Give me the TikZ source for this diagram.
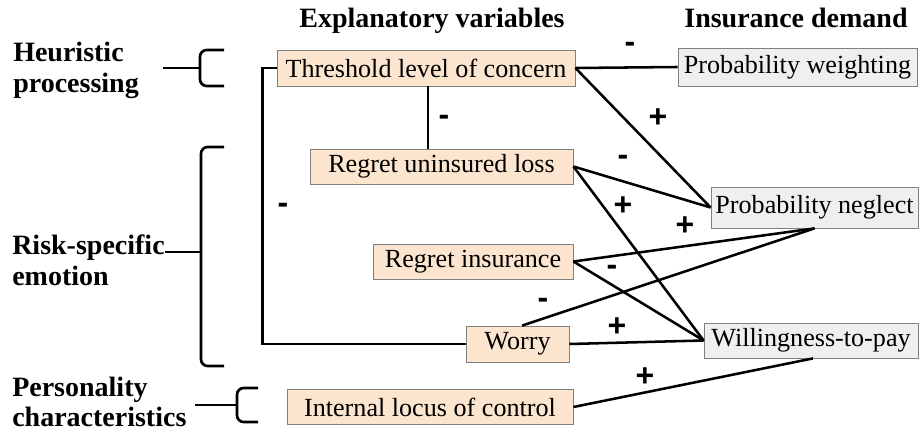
\documentclass[tikz,border=0pt]{standalone}
\usepackage{fontspec}
\setmainfont{Liberation Serif}
\newfontfamily\signfont{Liberation Sans}
\usepackage{tikz}

\definecolor{varfill}{RGB}{251,229,207}
\definecolor{demfill}{RGB}{239,239,239}
\definecolor{boxline}{RGB}{128,128,128}

\tikzset{
  varbox/.style={draw=boxline, fill=varfill, line width=0.6pt, inner sep=2pt, font=\fontsize{19.6}{22}\selectfont},
  dembox/.style={draw=boxline, fill=demfill, line width=0.6pt, inner sep=2pt, font=\fontsize{19.6}{22}\selectfont},
  lnk/.style={line width=1.9pt},
  sgn/.style={font=\signfont\bfseries\fontsize{24}{24}\selectfont, inner sep=0pt},
  hdr/.style={font=\bfseries\fontsize{21}{24}\selectfont, inner sep=0pt, anchor=base},
  grp/.style={font=\bfseries\fontsize{21}{23}\selectfont, align=left, inner sep=0pt, anchor=north west},
  brace/.style={line width=2pt, rounded corners=5pt}
}

\begin{document}
\begin{tikzpicture}[x=0.75pt,y=0.75pt,yscale=-1,xscale=1]
        \useasboundingbox (0,0) rectangle (919,434);

        % column headers
        \node[hdr] (hexp) at (432,28) {Explanatory variables};
        \node[hdr] (hdem) at (796,28) {Insurance demand};

        % groups on the left
        \node[grp] (gheu) at (13,42) {Heuristic\\processing};
        \node[grp] (grisk) at (12,235) {Risk-specific\\emotion};
        \node[grp, font=\bfseries\fontsize{21}{22}\selectfont] (gpers) at (12,377) {Personality\\characteristics};

        \draw[brace] (163,68) -- (200,68);
        \draw[brace] (224,50) -- (200,50) -- (200,86) -- (224,86);
        \draw[brace] (165,252) -- (201,252);
        \draw[brace] (224,147) -- (201,147) -- (201,366) -- (224,366);
        \draw[brace] (195,405) -- (237,405);
        \draw[brace] (258,388) -- (237,388) -- (237,422) -- (258,422);

        % boxes
        \node[varbox, minimum width=223.5pt, minimum height=27pt] (thr) at (426,68) {Threshold level of concern};
        \node[dembox, minimum width=179.25pt, minimum height=28.5pt] (pw) at (797.5,67) {Probability weighting};
        \node[varbox, minimum width=197.25pt, minimum height=26.25pt] (reu) at (441.5,166.5) {Regret uninsured loss};
        \node[dembox, minimum width=155.25pt, minimum height=30.75pt] (pn) at (814.5,207.5) {Probability neglect};
        \node[varbox, minimum width=150pt, minimum height=26.25pt] (ri) at (473,261.5) {Regret insurance};
        \node[varbox, minimum width=77.25pt, minimum height=27pt] (wor) at (517.5,344) {Worry};
        \node[dembox, minimum width=160.5pt, minimum height=26.25pt] (wtp) at (811,340.5) {Willingness-to-pay};
        \node[varbox, minimum width=214.5pt, minimum height=26.25pt] (loc) at (430,407) {Internal locus of control};

        % links
        \draw[lnk] (thr.west) -- ++(-14,0) |- (wor.west);
        \draw[lnk] (thr.east) -- (pw.west);
        \draw[lnk] (thr.east) -- (pn.west);
        \draw[lnk] ([xshift=1.5pt]thr.south) -- ([xshift=1.5pt]thr.south |- reu.north);
        \draw[lnk] (reu.east) -- (pn.west);
        \draw[lnk] (reu.east) -- (wtp.west);
        \draw[lnk] (ri.east) -- (pn.south);
        \draw[lnk] (ri.east) -- (wtp.west);
        \draw[lnk] ([xshift=3.4pt]wor.north) -- (pn.south);
        \draw[lnk] (wor.east) -- (wtp.west);
        \draw[lnk] (loc.east) -- ([xshift=1.5pt]wtp.south);

        % signs
        \node[sgn] (m1) at (630,47) {-};
        \node[sgn] (p1) at (658,118) {+};
        \node[sgn] (m2) at (444,120) {-};
        \node[sgn] (m3) at (283,208) {-};
        \node[sgn] (m4) at (623,160) {-};
        \node[sgn] (p2) at (623,206) {+};
        \node[sgn] (p3) at (685,226) {+};
        \node[sgn] (m5) at (612,270) {-};
        \node[sgn] (m6) at (543,303) {-};
        \node[sgn] (p4) at (617,327) {+};
        \node[sgn] (p5) at (645,377) {+};
\end{tikzpicture}
\end{document}
